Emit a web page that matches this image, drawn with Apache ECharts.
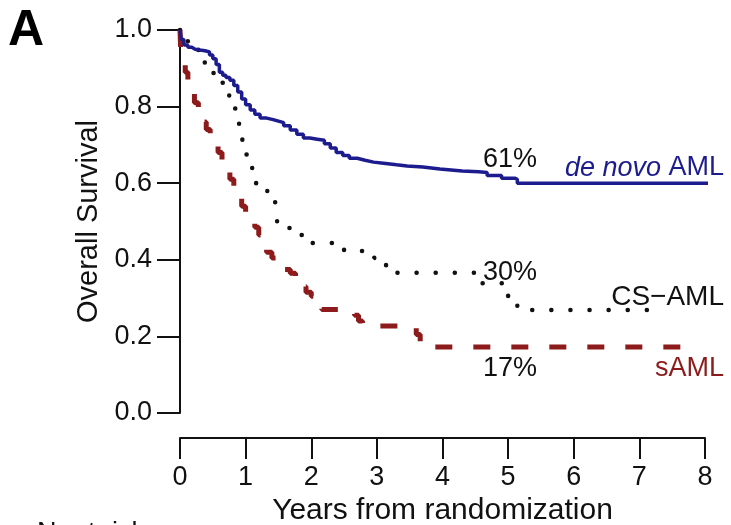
<!DOCTYPE html>
<html lang="en">
<head>
    <meta charset="UTF-8" />
    <title>Overall Survival by AML type</title>
    <script src="https://cdn.jsdelivr.net/npm/echarts@6/dist/echarts.min.js"></script>
    <style>
        html, body {
            margin: 0;
            padding: 0;
            background: #fff;
        }
        #chart {
            width: 731px;
            height: 525px;
        }
    </style>
</head>
<body>
<div id="chart"></div>
<script>
    // Kaplan-Meier step points (years, survival)
    const deNovoYears = [0, 0.02, 0.06, 0.12, 0.18, 0.23, 0.3, 0.38, 0.45, 0.5, 0.55, 0.6, 0.65, 0.7, 0.76, 0.82, 0.88, 0.94, 1.0, 1.07, 1.14, 1.22, 1.32, 1.42, 1.5, 1.58, 1.68, 1.78, 1.88, 1.98, 2.09, 2.2, 2.29, 2.38, 2.48, 2.58, 2.7, 2.82, 2.95, 3.1, 3.3, 3.46, 3.7, 3.96, 4.3, 4.55, 4.68, 4.9, 5.1, 5.14, 8.26];
    const deNovoSurv  = [1.0, 0.975, 0.961, 0.955, 0.95, 0.948, 0.946, 0.943, 0.935, 0.925, 0.91, 0.89, 0.882, 0.876, 0.869, 0.855, 0.838, 0.82, 0.805, 0.791, 0.78, 0.77, 0.766, 0.762, 0.758, 0.75, 0.739, 0.728, 0.718, 0.715, 0.712, 0.703, 0.692, 0.68, 0.672, 0.665, 0.66, 0.655, 0.652, 0.648, 0.645, 0.642, 0.637, 0.632, 0.63, 0.628, 0.62, 0.613, 0.61, 0.6, 0.6];

    const csYears = [0, 0.05, 0.12, 0.2, 0.28, 0.35, 0.42, 0.49, 0.56, 0.64, 0.7, 0.75, 0.8, 0.85, 0.9, 0.95, 1.0, 1.05, 1.1, 1.16, 1.24, 1.33, 1.4, 1.45, 1.48, 1.56, 1.65, 1.74, 1.83, 1.92, 2.01, 2.45, 2.5, 2.9, 2.96, 3.05, 3.14, 3.22, 3.31, 4.5, 4.56, 4.95, 5.0, 5.08, 5.14, 5.3, 7.13];
    const csSurv  = [1.0, 0.985, 0.97, 0.955, 0.935, 0.915, 0.9, 0.888, 0.875, 0.862, 0.84, 0.82, 0.795, 0.765, 0.735, 0.705, 0.675, 0.65, 0.625, 0.598, 0.588, 0.577, 0.56, 0.548, 0.5, 0.49, 0.483, 0.472, 0.465, 0.455, 0.444, 0.444, 0.423, 0.423, 0.405, 0.395, 0.384, 0.375, 0.366, 0.366, 0.339, 0.339, 0.3, 0.285, 0.277, 0.269, 0.269];

    const sYears = [0, 0.01, 0.04, 0.08, 0.12, 0.17, 0.22, 0.28, 0.34, 0.4, 0.46, 0.52, 0.58, 0.64, 0.7, 0.76, 0.82, 0.88, 0.94, 1.0, 1.07, 1.14, 1.2, 1.26, 1.32, 1.4, 1.5, 1.6, 1.68, 1.76, 1.84, 1.92, 2.0, 2.08, 2.16, 2.66, 2.72, 2.78, 3.6, 3.66, 3.72, 7.7];
    const sSurv  = [1.0, 0.95, 0.92, 0.89, 0.865, 0.84, 0.81, 0.785, 0.76, 0.74, 0.72, 0.7, 0.68, 0.66, 0.635, 0.61, 0.59, 0.565, 0.54, 0.525, 0.505, 0.485, 0.465, 0.44, 0.42, 0.405, 0.39, 0.375, 0.365, 0.35, 0.33, 0.315, 0.305, 0.285, 0.27, 0.255, 0.24, 0.227, 0.205, 0.185, 0.172, 0.172];

    const pctLabels = ['61%', '30%', '17%'];
    const groupNames = ['de novo AML', 'CS\u2212AML', 'sAML'];

    const font = '"Liberation Sans", Arial, sans-serif';
    const ink = '#111';
    const blue = '#1c1c8f';
    const red = '#8e1b1b';

    const pairs = (xs, ys) => xs.map((x, i) => [x, ys[i]]);

    const chart = echarts.init(document.getElementById('chart'));

    const option = {
        animation: false,
        backgroundColor: '#fff',
        grid: { left: 180, right: 26, top: 30, bottom: 112, outerBoundsMode: 'none', containLabel: false },
        xAxis: {
            type: 'value',
            min: 0,
            max: 8,
            interval: 1,
            offset: 25,
            name: 'Years from randomization',
            nameLocation: 'middle',
            nameGap: 55,
            nameTextStyle: { color: ink, fontSize: 30, fontFamily: font },
            axisLine: { show: true, onZero: false, lineStyle: { color: ink, width: 2 } },
            axisTick: { show: true, length: 21, lineStyle: { color: ink, width: 2 } },
            axisLabel: { margin: 26, color: ink, fontSize: 27, fontFamily: font },
            splitLine: { show: false }
        },
        yAxis: {
            type: 'value',
            min: 0,
            max: 1,
            interval: 0.2,
            name: 'Overall Survival',
            nameLocation: 'middle',
            nameGap: 74,
            nameTextStyle: { color: ink, fontSize: 29, fontFamily: font },
            axisLine: { show: true, onZero: false, lineStyle: { color: ink, width: 2 } },
            axisTick: { show: true, length: 23, lineStyle: { color: ink, width: 2 } },
            axisLabel: {
                margin: 28, color: ink, fontSize: 27, fontFamily: font,
                formatter: v => v.toFixed(1)
            },
            splitLine: { show: false }
        },
        series: [
            {
                name: groupNames[1],
                type: 'line',
                step: 'end',
                clip: false,
                symbol: 'none',
                data: pairs(csYears, csSurv),
                lineStyle: { color: ink, width: 4.5, type: [0.1, 19], cap: 'round' }
            },
            {
                name: groupNames[2],
                type: 'line',
                step: 'end',
                clip: false,
                symbol: 'none',
                data: pairs(sYears, sSurv),
                lineStyle: { color: red, width: 5, type: [17, 21] }
            },
            {
                name: groupNames[0],
                type: 'line',
                step: 'end',
                clip: false,
                symbol: 'none',
                data: pairs(deNovoYears, deNovoSurv),
                lineStyle: { color: blue, width: 3.5 }
            }
        ],
        graphic: [
            {
                type: 'text', left: 8, top: 6,
                style: { text: 'A', font: 'bold 50px ' + font, fill: '#000' }
            },
            {
                type: 'text', x: 537, y: 160,
                style: { text: pctLabels[0], fill: ink, font: '27px ' + font, align: 'right', verticalAlign: 'middle' }
            },
            {
                type: 'text', x: 724, y: 168,
                style: {
                    text: '{i|de novo} AML', fill: blue, font: '27px ' + font,
                    align: 'right', verticalAlign: 'middle',
                    rich: { i: { fontStyle: 'italic', fontSize: 27, fontFamily: font, fill: blue } }
                }
            },
            {
                type: 'text', x: 537, y: 273,
                style: { text: pctLabels[1], fill: ink, font: '27px ' + font, align: 'right', verticalAlign: 'middle' }
            },
            {
                type: 'text', x: 724, y: 297,
                style: { text: groupNames[1], fill: ink, font: '28px ' + font, align: 'right', verticalAlign: 'middle' }
            },
            {
                type: 'text', x: 537, y: 369,
                style: { text: pctLabels[2], fill: ink, font: '27px ' + font, align: 'right', verticalAlign: 'middle' }
            },
            {
                type: 'text', x: 724, y: 369,
                style: { text: groupNames[2], fill: red, font: '27px ' + font, align: 'right', verticalAlign: 'middle' }
            },
            {
                type: 'text', x: 37, y: 520,
                style: { text: 'Nr at risk', fill: ink, font: '27px ' + font, verticalAlign: 'top' }
            }
        ]
    };

    chart.setOption(option);
</script>
</body>
</html>
